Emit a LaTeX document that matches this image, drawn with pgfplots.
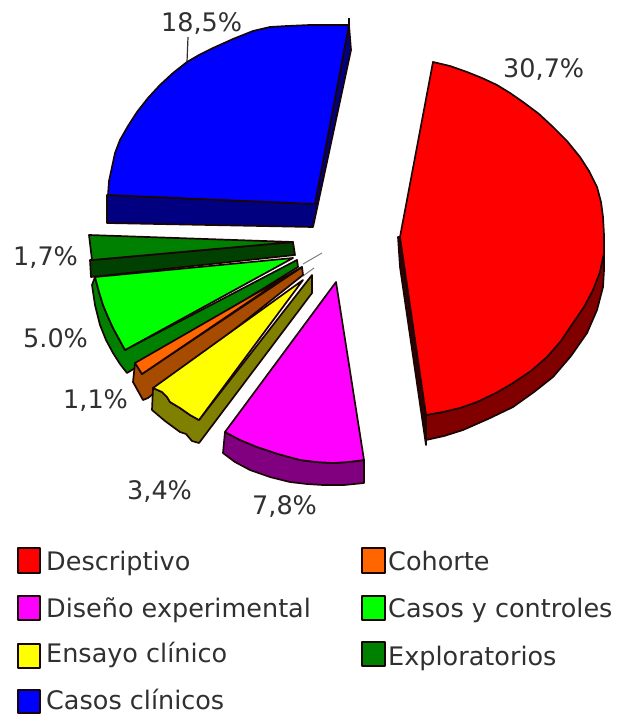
\documentclass[border=0pt]{standalone}
\usepackage{pgfplots}
\pgfplotsset{compat=1.18}
\usepackage{fontspec}
\setmainfont{DejaVu Sans}
\definecolor{txt}{HTML}{303030}
\definecolor{edge}{HTML}{1A0505}
\definecolor{orng}{HTML}{FF6600}
\definecolor{brwn}{HTML}{A64B00}
\definecolor{lime}{HTML}{00FF00}
\definecolor{gr}{HTML}{008000}
\definecolor{dgr}{HTML}{004000}
\definecolor{mgt}{HTML}{FF00FF}
\definecolor{pur}{HTML}{800080}
\definecolor{yel}{HTML}{FFFF00}
\definecolor{oli}{HTML}{808000}
\definecolor{drd}{HTML}{800000}
\definecolor{blu}{HTML}{0000FF}
\definecolor{nav}{HTML}{000080}
\tikzset{lab/.style={font=\fontsize{25.5bp}{28bp}\selectfont,text=txt,inner sep=0pt,anchor=base west}}
\begin{document}
\begin{tikzpicture}
\begin{axis}[scale only axis,width=618bp,height=715bp,xmin=0,xmax=618,ymin=0,ymax=715,y dir=reverse,hide axis,clip=false,
  every axis plot/.append style={draw=edge,line width=1.7bp,line join=round,mark=none}]
\addplot[draw=none,line width=0pt] coordinates {(0,0) (618,715)};
% leaders
\addplot[draw=txt,line width=1.2bp] coordinates {(188,37) (187,62)};
\addplot[draw=gray,line width=1bp] coordinates {(303,264) (322,253)};
\addplot[draw=gray,line width=1bp] coordinates {(303,276) (314,268)};
% blue
\addplot[fill=nav] coordinates {(107,195) (107,223) (313,227) (351,50) (349,25) (315,204)} -- cycle;
\addplot[draw=edge] coordinates {(349,18) (349,25)};
\addplot[fill=blu] coordinates {(349,25) (330,25) (310,25) (287,26) (270,27) (253,31) (233,39) (213,48) (199,55) (187,62) (173,73) (160,85) (148,98) (137,112) (128,126) (120,140) (115,153) (112,167) (109,181) (108,195) (315,204)} -- cycle;
% red
\addplot[fill=drd] coordinates {(426,415) (426,440) (444,436) (463,430) (488,419) (513,407) (534,392) (553,377) (571,356) (587,333) (597,310) (603,287) (604,270) (604,253) (593,290) (573,323) (547,357) (513,383) (477,402) (443,412)} -- cycle;
\addplot[fill=black!80!red] coordinates {(400,237) (398,237) (400,267) (426,445) (426,415)} -- cycle;
\addplot[fill=red] coordinates {(433,62) (450,66) (467,72) (482,78) (497,85) (510,93) (523,102) (539,114) (553,127) (567,141) (580,157) (589,171) (597,187) (601,202) (603,217) (604,235) (604,253) (600,272) (593,290) (584,307) (573,323) (561,341) (547,357) (531,371) (513,383) (496,393) (477,402) (460,408) (443,412) (426,415) (400,237)} -- cycle;
% magenta
\addplot[fill=pur] coordinates {(225,432) (223,453) (235,462) (250,470) (270,477) (290,482) (307,484) (323,485) (344,485) (364,483) (364,460) (349,462) (333,463) (316,462) (300,460) (278,454) (257,447) (240,440)} -- cycle;
\addplot[fill=mgt] coordinates {(336,282) (225,432) (240,440) (257,447) (278,454) (300,460) (316,462) (333,463) (349,462) (364,460)} -- cycle;
% exploratorios
\addplot[fill=dgr] coordinates {(92,260) (90,260) (91,277) (295,255) (293,242)} -- cycle;
\addplot[fill=gr] coordinates {(89,235) (293,242) (92,260)} -- cycle;
% green
\addplot[fill=gr] coordinates {(95,277) (92,285) (95,305) (100,325) (106,340) (113,353) (120,364) (127,373) (298,267) (297,260) (125,350) (119,339) (113,328) (108,317) (103,305) (99,292)} -- cycle;
\addplot[fill=lime] coordinates {(95,277) (293,258) (125,350) (119,339) (113,328) (108,317) (103,305) (99,292)} -- cycle;
% orange
\addplot[fill=brwn] coordinates {(135,363) (133,382) (143,400) (148,398) (303,275) (302,267) (142,374)} -- cycle;
\addplot[fill=orng] coordinates {(135,363) (302,267) (263,292) (142,374)} -- cycle;
% yellow
\addplot[fill=oli] coordinates {(153,388) (152,410) (165,421) (180,432) (186,434) (192,441) (199,443) (312,293) (312,275) (199,420) (190,415) (180,408) (170,402) (167,397) (162,392)} -- cycle;
\addplot[fill=yel] coordinates {(303,280) (153,388) (162,392) (167,397) (170,402) (180,408) (190,415) (199,420)} -- cycle;
% legend boxes
\addplot[fill=red,line width=2bp] coordinates {(18,548) (40,548) (40,573) (18,573)} -- cycle;
\addplot[fill=mgt,line width=2bp] coordinates {(18,596) (40,596) (40,620) (18,620)} -- cycle;
\addplot[fill=yel,line width=2bp] coordinates {(18,644) (40,644) (40,668) (18,668)} -- cycle;
\addplot[fill=blu,line width=2bp] coordinates {(18,690) (40,690) (40,713) (18,713)} -- cycle;
\addplot[fill=orng,line width=2bp] coordinates {(362,548) (385,548) (385,573) (362,573)} -- cycle;
\addplot[fill=lime,line width=2bp] coordinates {(362,596) (385,596) (385,620) (362,620)} -- cycle;
\addplot[fill=gr,line width=2bp] coordinates {(362,642) (385,642) (385,666) (362,666)} -- cycle;
% texts
\node[lab] at (axis cs:46,570) {Descriptivo};
\node[lab] at (axis cs:46,617) {Diseño experimental};
\node[lab] at (axis cs:46,662) {Ensayo clínico};
\node[lab] at (axis cs:46,709) {Casos clínicos};
\node[lab] at (axis cs:388,570) {Cohorte};
\node[lab] at (axis cs:388,617) {Casos y controles};
\node[lab] at (axis cs:388,665) {Exploratorios};
\node[lab] at (axis cs:503,78) {30,7\%};
\node[lab] at (axis cs:161,32) {18,5\%};
\node[lab] at (axis cs:13,265) {1,7\%};
\node[lab] at (axis cs:23,347) {5.0\%};
\node[lab] at (axis cs:63,408) {1,1\%};
\node[lab] at (axis cs:127,499) {3,4\%};
\node[lab] at (axis cs:252,514) {7,8\%};
\end{axis}
\end{tikzpicture}
\end{document}
